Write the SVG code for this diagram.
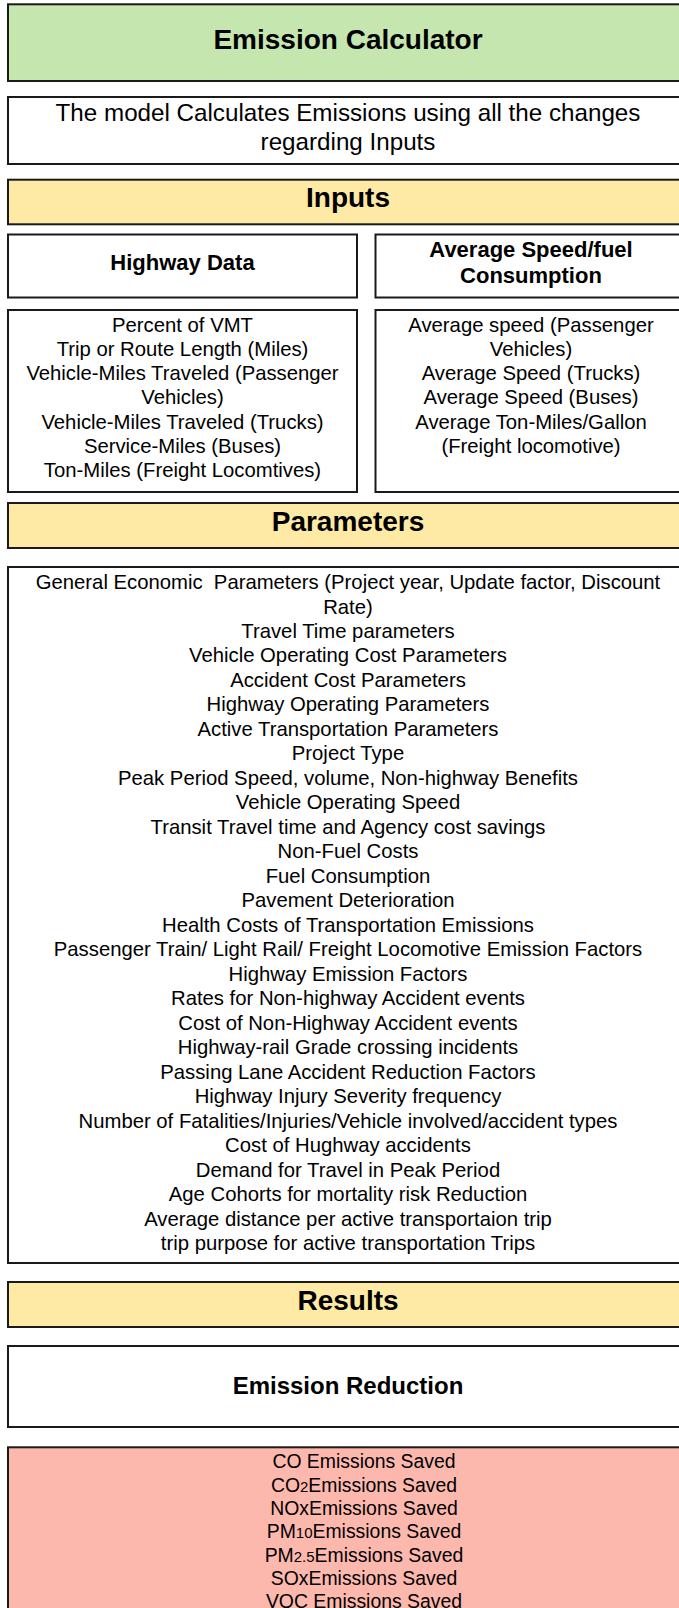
<svg xmlns="http://www.w3.org/2000/svg" width="679" height="1608" viewBox="0 0 679 1608">
<style>
.box{stroke:#1a1a1a;stroke-width:2}
.w{fill:#ffffff}
.g{fill:#c6e6b0}
.y{fill:#fee9a5}
.r{fill:#fdb8ae}
text{font-family:"Liberation Sans",Arial,sans-serif;fill:#000;text-anchor:middle;white-space:pre}
.h28{font-size:28px;font-weight:bold}
.h24{font-size:24px;font-weight:bold}
.h22{font-size:22px;font-weight:bold}
.t24{font-size:24.2px}
.t20{font-size:20.3px}
.t19{font-size:19.4px}
.sub{font-size:15px}
</style>
<rect width="679" height="1608" fill="#ffffff"/>
<g id="title">
<rect class="box g" x="8" y="4.3" width="680" height="76.7"/>
<text class="h28" x="348" y="49.3">Emission Calculator</text>
</g>
<g id="description">
<rect class="box w" x="8" y="97" width="680" height="67"/>
<text class="t24" x="348" y="121">The model Calculates Emissions using all the changes</text>
<text class="t24" x="348" y="150">regarding Inputs</text>
</g>
<g id="inputs">
<rect class="box y" x="8" y="179.7" width="680" height="44.6"/>
<text class="h28" x="348" y="207">Inputs</text>
</g>
<g id="highway-data">
<rect class="box w" x="8" y="234.5" width="349" height="63"/>
<text class="h22" x="182.5" y="270">Highway Data</text>
</g>
<g id="avg-speed">
<rect class="box w" x="375.5" y="234.5" width="312" height="63"/>
<text class="h22" x="531" y="256.5">Average Speed/fuel</text>
<text class="h22" x="531" y="283">Consumption</text>
</g>
<g id="highway-list">
<rect class="box w" x="8" y="310" width="349" height="182"/>
<text class="t20" x="182.5" y="331.7">Percent of VMT</text>
<text class="t20" x="182.5" y="356">Trip or Route Length (Miles)</text>
<text class="t20" x="182.5" y="380.2">Vehicle-Miles Traveled (Passenger</text>
<text class="t20" x="182.5" y="404.4">Vehicles)</text>
<text class="t20" x="182.5" y="428.6">Vehicle-Miles Traveled (Trucks)</text>
<text class="t20" x="182.5" y="452.8">Service-Miles (Buses)</text>
<text class="t20" x="182.5" y="477">Ton-Miles (Freight Locomtives)</text>
</g>
<g id="speed-list">
<rect class="box w" x="375.5" y="310" width="312" height="182"/>
<text class="t20" x="531" y="331.7">Average speed (Passenger</text>
<text class="t20" x="531" y="356">Vehicles)</text>
<text class="t20" x="531" y="380.2">Average Speed (Trucks)</text>
<text class="t20" x="531" y="404.4">Average Speed (Buses)</text>
<text class="t20" x="531" y="428.6">Average Ton-Miles/Gallon</text>
<text class="t20" x="531" y="452.8">(Freight locomotive)</text>
</g>
<g id="parameters">
<rect class="box y" x="8" y="503" width="680" height="45"/>
<text class="h28" x="348" y="531">Parameters</text>
</g>
<g id="parameters-list">
<rect class="box w" x="8" y="567" width="680" height="696"/>
<text class="t20" x="348" y="589" xml:space="preserve">General Economic  Parameters (Project year, Update factor, Discount</text>
<text class="t20" x="348" y="613.5">Rate)</text>
<text class="t20" x="348" y="638">Travel Time parameters</text>
<text class="t20" x="348" y="662.4">Vehicle Operating Cost Parameters</text>
<text class="t20" x="348" y="686.9">Accident Cost Parameters</text>
<text class="t20" x="348" y="711.4">Highway Operating Parameters</text>
<text class="t20" x="348" y="735.9">Active Transportation Parameters</text>
<text class="t20" x="348" y="760.4">Project Type</text>
<text class="t20" x="348" y="784.8">Peak Period Speed, volume, Non-highway Benefits</text>
<text class="t20" x="348" y="809.3">Vehicle Operating Speed</text>
<text class="t20" x="348" y="833.8">Transit Travel time and Agency cost savings</text>
<text class="t20" x="348" y="858.3">Non-Fuel Costs</text>
<text class="t20" x="348" y="882.8">Fuel Consumption</text>
<text class="t20" x="348" y="907.2">Pavement Deterioration</text>
<text class="t20" x="348" y="931.7">Health Costs of Transportation Emissions</text>
<text class="t20" x="348" y="956.2">Passenger Train/ Light Rail/ Freight Locomotive Emission Factors</text>
<text class="t20" x="348" y="980.7">Highway Emission Factors</text>
<text class="t20" x="348" y="1005.2">Rates for Non-highway Accident events</text>
<text class="t20" x="348" y="1029.6">Cost of Non-Highway Accident events</text>
<text class="t20" x="348" y="1054.1">Highway-rail Grade crossing incidents</text>
<text class="t20" x="348" y="1078.6">Passing Lane Accident Reduction Factors</text>
<text class="t20" x="348" y="1103.1">Highway Injury Severity frequency</text>
<text class="t20" x="348" y="1127.6">Number of Fatalities/Injuries/Vehicle involved/accident types</text>
<text class="t20" x="348" y="1152">Cost of Hughway accidents</text>
<text class="t20" x="348" y="1176.5">Demand for Travel in Peak Period</text>
<text class="t20" x="348" y="1201">Age Cohorts for mortality risk Reduction</text>
<text class="t20" x="348" y="1225.5">Average distance per active transportaion trip</text>
<text class="t20" x="348" y="1250">trip purpose for active transportation Trips</text>
</g>
<g id="results">
<rect class="box y" x="8" y="1282" width="680" height="45"/>
<text class="h28" x="348" y="1310">Results</text>
</g>
<g id="emission-reduction">
<rect class="box w" x="8" y="1346" width="680" height="81"/>
<text class="h24" x="348" y="1394">Emission Reduction</text>
</g>
<g id="emissions-saved">
<rect class="box r" x="8" y="1447.3" width="712" height="200"/>
<text class="t19" x="364" y="1468.3">CO Emissions Saved</text>
<text class="t19" x="364" y="1491.6">CO<tspan class="sub">2</tspan>Emissions Saved</text>
<text class="t19" x="364" y="1514.9">NOxEmissions Saved</text>
<text class="t19" x="364" y="1538.2">PM<tspan class="sub">10</tspan>Emissions Saved</text>
<text class="t19" x="364" y="1561.5">PM<tspan class="sub">2.5</tspan>Emissions Saved</text>
<text class="t19" x="364" y="1584.8">SOxEmissions Saved</text>
<text class="t19" x="364" y="1608.1">VOC Emissions Saved</text>
</g>
<g id="connectors"></g>
</svg>
